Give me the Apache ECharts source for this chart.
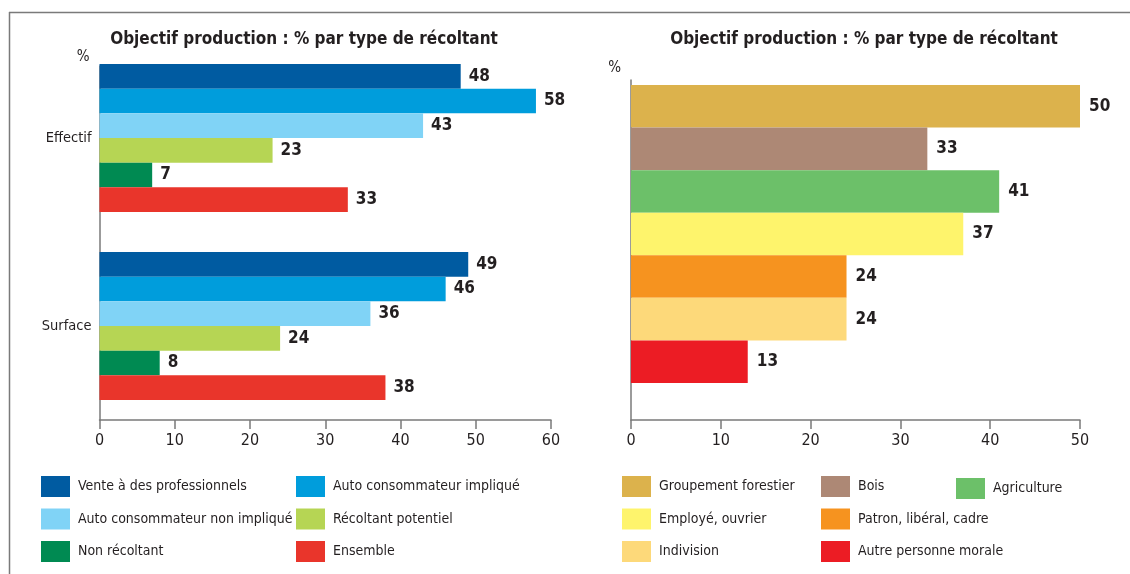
<!DOCTYPE html>
<html>
<head>
<meta charset="utf-8">
<script src="https://cdn.jsdelivr.net/npm/echarts@6/dist/echarts.min.js"></script>
<style>
  html, body { margin: 0; padding: 0; background: #fff; }
  #chart { width: 1130px; height: 574px; }
</style>
</head>
<body>
<div id="chart"></div>
<script>
// left chart data
const leftCategories = ['Effectif', 'Surface'];
const leftNames = [
  'Vente à des professionnels',
  'Auto consommateur impliqué',
  'Auto consommateur non impliqué',
  'Récoltant potentiel',
  'Non récoltant',
  'Ensemble',
];
const leftValues = [
  [48, 49],
  [58, 46],
  [43, 36],
  [23, 24],
  [7, 8],
  [33, 38],
];
const leftColors = ['#005ba1', '#009ddc', '#80d3f6', '#b6d554', '#008a52', '#e9352b'];
const leftTicks = [0, 10, 20, 30, 40, 50, 60];

// right chart data
const rightNames = [
  'Groupement forestier',
  'Bois',
  'Agriculture',
  'Employé, ouvrier',
  'Patron, libéral, cadre',
  'Indivision',
  'Autre personne morale',
];
const rightValues = [50, 33, 41, 37, 24, 24, 13];
const rightColors = ['#dcb24c', '#ad8875', '#6cc069', '#fef46c', '#f6931f', '#fdd97a', '#ec1c24'];
const rightTicks = [0, 10, 20, 30, 40, 50];

const FONT = '"DejaVu Sans Condensed", "Liberation Sans Narrow", sans-serif';
const INK = '#231f20';
const AXIS = '#7a7a7a';

const chart = echarts.init(document.getElementById('chart'));

function valueAxis(gridIndex, ticks) {
  return {
    type: 'value',
    gridIndex,
    min: ticks[0],
    max: ticks[ticks.length - 1],
    interval: ticks[1] - ticks[0],
    axisLine: { show: true, lineStyle: { color: AXIS, width: 1.5 } },
    axisTick: { show: true, length: 9, lineStyle: { color: AXIS, width: 1.5 } },
    axisLabel: { color: INK, fontFamily: FONT, fontSize: 16, margin: 13 },
    splitLine: { show: false },
  };
}

function hiddenValueAxis(gridIndex) {
  return {
    type: 'value', gridIndex, min: 0, max: 1,
    axisLine: { show: false }, axisTick: { show: false },
    axisLabel: { show: false }, splitLine: { show: false },
  };
}

function lineAxis(gridIndex, gap) {
  return {
    type: 'value', gridIndex, min: 0, max: 1,
    name: '%',
    nameLocation: 'end',
    nameGap: gap,
    nameTextStyle: { color: INK, fontFamily: FONT, fontSize: 15, align: 'right', padding: [0, 10, 0, 0] },
    axisLine: { show: true, lineStyle: { color: AXIS, width: 1.5 } },
    axisTick: { show: false }, axisLabel: { show: false }, splitLine: { show: false },
  };
}

const labelStyle = (size, dist) => ({
  show: true,
  position: 'right',
  distance: dist,
  color: INK,
  fontFamily: FONT,
  fontWeight: 'bold',
  fontSize: size,
});

const legendBase = {
  orient: 'vertical',
  icon: 'rect',
  itemWidth: 29,
  itemHeight: 21,
  itemGap: 11.5,
  padding: 0,
  selectedMode: false,
  textStyle: { color: INK, fontFamily: FONT, fontSize: 14, padding: [0, 0, 0, 3] },
};

const leftSeries = leftNames.map((name, i) => ({
  name,
  type: 'bar',
  xAxisIndex: 0,
  yAxisIndex: 0,
  data: leftValues[i],
  itemStyle: { color: leftColors[i] },
  barGap: 0,
  barCategoryGap: '21.3%',
  label: labelStyle(17, 8),
}));

const rightSeries = rightNames.map((name, i) => ({
  name,
  type: 'bar',
  xAxisIndex: 1,
  yAxisIndex: 1,
  data: [rightValues[i]],
  itemStyle: { color: rightColors[i] },
  barGap: 0,
  barCategoryGap: '19.9%',
  label: labelStyle(17, 9),
}));

chart.setOption({
  animation: false,
  backgroundColor: '#fff',
  textStyle: { fontFamily: FONT },
  title: [
    { text: 'Objectif production : % par type de récoltant', left: 299, top: 26, textAlign: 'center',
      textStyle: { fontFamily: FONT, fontWeight: 'bold', fontSize: 17, color: INK } },
    { text: 'Objectif production : % par type de récoltant', left: 859, top: 26, textAlign: 'center',
      textStyle: { fontFamily: FONT, fontWeight: 'bold', fontSize: 17, color: INK } },
  ],
  grid: [
    { left: 99.5, right: 579, top: 44, bottom: 154 },
    { left: 631, right: 50, top: 48, bottom: 154 },
    { left: 99.5, right: 579, top: 66, bottom: 154 },
    { left: 631, right: 50, top: 80, bottom: 154 },
  ],
  xAxis: [
    valueAxis(0, leftTicks),
    valueAxis(1, rightTicks),
    hiddenValueAxis(2),
    hiddenValueAxis(3),
  ],
  yAxis: [
    {
      type: 'category', gridIndex: 0, data: leftCategories, inverse: true,
      axisLine: { show: false }, axisTick: { show: false },
      axisLabel: { color: INK, fontFamily: FONT, fontSize: 14.5, margin: 8 },
    },
    {
      type: 'category', gridIndex: 1, data: [''], inverse: true,
      axisLine: { show: false }, axisTick: { show: false }, axisLabel: { show: false },
    },
    lineAxis(2, 1),
    lineAxis(3, 4),
  ],
  legend: [
    Object.assign({}, legendBase, { left: 41, top: 476, data: [leftNames[0], leftNames[2], leftNames[4]] }),
    Object.assign({}, legendBase, { left: 296, top: 476, data: [leftNames[1], leftNames[3], leftNames[5]] }),
    Object.assign({}, legendBase, { left: 622, top: 476, data: [rightNames[0], rightNames[3], rightNames[5]] }),
    Object.assign({}, legendBase, { left: 821, top: 476, data: [rightNames[1], rightNames[4], rightNames[6]] }),
    Object.assign({}, legendBase, { left: 956, top: 478, data: [rightNames[2]] }),
  ],
  graphic: [
    { type: 'line', shape: { x1: 9, y1: 12.5, x2: 1130, y2: 12.5 }, style: { stroke: AXIS, lineWidth: 1.5 } },
    { type: 'line', shape: { x1: 9.5, y1: 12, x2: 9.5, y2: 574 }, style: { stroke: AXIS, lineWidth: 1.5 } },
  ],
  series: leftSeries.concat(rightSeries),
});

window.addEventListener('resize', () => chart.resize());
</script>
</body>
</html>
